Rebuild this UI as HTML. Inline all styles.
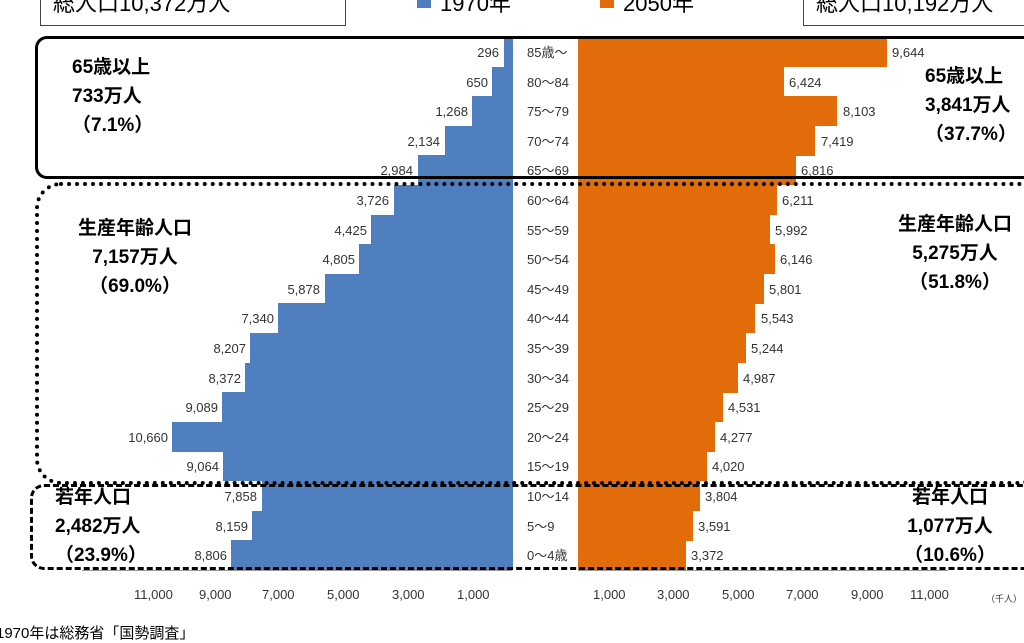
<!DOCTYPE html>
<html><head><meta charset="utf-8"><style>
body{margin:0;width:1024px;height:636px;overflow:hidden;background:#fff;position:relative;font-family:"Liberation Sans","Noto Sans CJK JP",sans-serif;}
.a{position:absolute;}
.r{position:absolute;left:0;width:1024px;height:30px;}
.b{position:absolute;right:511px;top:0;height:30px;background:#4f7fbf;}
.o{position:absolute;left:578px;top:0;height:30px;background:#e36c0a;}
.l{position:absolute;top:0;line-height:32px;font-size:13px;color:#333;white-space:nowrap;}
.g{position:absolute;left:527px;top:0;line-height:32px;font-size:13px;color:#333;white-space:nowrap;}
.t{position:absolute;font-weight:bold;font-size:19px;color:#000;white-space:nowrap;text-align:center;line-height:29px;}
.x{position:absolute;top:587px;font-size:13px;color:#333;}
</style></head><body>
<div class="a" style="left:40px;top:-12px;width:306px;height:38px;border:1px solid #444;font-size:22px;line-height:30px;padding-left:12px;box-sizing:border-box">総人口10,372万人</div>
<div class="a" style="left:803px;top:-12px;width:240px;height:38px;border:1px solid #444;font-size:22px;line-height:30px;padding-left:12px;box-sizing:border-box">総人口10,192万人</div>
<div class="a" style="left:417px;top:-6px;width:14px;height:14px;background:#4f7fbf"></div>
<div class="a" style="left:440px;top:-14px;font-size:22px">1970年</div>
<div class="a" style="left:600px;top:-6px;width:14px;height:14px;background:#e36c0a"></div>
<div class="a" style="left:623px;top:-14px;font-size:22px">2050年</div>

<div class="r" style="top:37px"><div class="b" style="width:9.5px"></div><div class="l" style="right:525px">296</div><div class="g">85歳～</div><div class="o" style="width:308.6px"></div><div class="l" style="left:892px">9,644</div></div>
<div class="r" style="top:66.6px"><div class="b" style="width:20.8px"></div><div class="l" style="right:536px">650</div><div class="g">80～84</div><div class="o" style="width:205.6px"></div><div class="l" style="left:789px">6,424</div></div>
<div class="r" style="top:96.2px"><div class="b" style="width:40.6px"></div><div class="l" style="right:556px">1,268</div><div class="g">75～79</div><div class="o" style="width:259.3px"></div><div class="l" style="left:843px">8,103</div></div>
<div class="r" style="top:125.8px"><div class="b" style="width:68.3px"></div><div class="l" style="right:584px">2,134</div><div class="g">70～74</div><div class="o" style="width:237.4px"></div><div class="l" style="left:821px">7,419</div></div>
<div class="r" style="top:155.4px"><div class="b" style="width:95.5px"></div><div class="l" style="right:611px">2,984</div><div class="g">65～69</div><div class="o" style="width:218.1px"></div><div class="l" style="left:801px">6,816</div></div>
<div class="r" style="top:185px"><div class="b" style="width:119.2px"></div><div class="l" style="right:635px">3,726</div><div class="g">60～64</div><div class="o" style="width:198.8px"></div><div class="l" style="left:782px">6,211</div></div>
<div class="r" style="top:214.6px"><div class="b" style="width:141.6px"></div><div class="l" style="right:657px">4,425</div><div class="g">55～59</div><div class="o" style="width:191.7px"></div><div class="l" style="left:775px">5,992</div></div>
<div class="r" style="top:244.2px"><div class="b" style="width:153.8px"></div><div class="l" style="right:669px">4,805</div><div class="g">50～54</div><div class="o" style="width:196.7px"></div><div class="l" style="left:780px">6,146</div></div>
<div class="r" style="top:273.8px"><div class="b" style="width:188.1px"></div><div class="l" style="right:704px">5,878</div><div class="g">45～49</div><div class="o" style="width:185.6px"></div><div class="l" style="left:769px">5,801</div></div>
<div class="r" style="top:303.4px"><div class="b" style="width:234.9px"></div><div class="l" style="right:750px">7,340</div><div class="g">40～44</div><div class="o" style="width:177.4px"></div><div class="l" style="left:761px">5,543</div></div>
<div class="r" style="top:333px"><div class="b" style="width:262.6px"></div><div class="l" style="right:778px">8,207</div><div class="g">35～39</div><div class="o" style="width:167.8px"></div><div class="l" style="left:751px">5,244</div></div>
<div class="r" style="top:362.6px"><div class="b" style="width:267.9px"></div><div class="l" style="right:783px">8,372</div><div class="g">30～34</div><div class="o" style="width:159.6px"></div><div class="l" style="left:743px">4,987</div></div>
<div class="r" style="top:392.2px"><div class="b" style="width:290.8px"></div><div class="l" style="right:806px">9,089</div><div class="g">25～29</div><div class="o" style="width:145px"></div><div class="l" style="left:728px">4,531</div></div>
<div class="r" style="top:421.8px"><div class="b" style="width:341.1px"></div><div class="l" style="right:856px">10,660</div><div class="g">20～24</div><div class="o" style="width:136.9px"></div><div class="l" style="left:720px">4,277</div></div>
<div class="r" style="top:451.4px"><div class="b" style="width:290px"></div><div class="l" style="right:805px">9,064</div><div class="g">15～19</div><div class="o" style="width:128.6px"></div><div class="l" style="left:712px">4,020</div></div>
<div class="r" style="top:481px"><div class="b" style="width:251.5px"></div><div class="l" style="right:767px">7,858</div><div class="g">10～14</div><div class="o" style="width:121.7px"></div><div class="l" style="left:705px">3,804</div></div>
<div class="r" style="top:510.6px"><div class="b" style="width:261.1px"></div><div class="l" style="right:776px">8,159</div><div class="g">5～9</div><div class="o" style="width:114.9px"></div><div class="l" style="left:698px">3,591</div></div>
<div class="r" style="top:540.2px"><div class="b" style="width:281.8px"></div><div class="l" style="right:797px">8,806</div><div class="g">0～4歳</div><div class="o" style="width:107.9px"></div><div class="l" style="left:691px">3,372</div></div>

<div class="a" style="left:82px;top:570px;width:430px;height:1px;background:#999"></div>
<div class="a" style="left:578px;top:570px;width:370px;height:1px;background:#999"></div>

<div class="a" style="left:35px;top:36px;width:1010px;height:143px;border:3px solid #000;border-radius:12px;box-sizing:border-box"></div>
<div class="a" style="left:35px;top:182px;width:1010px;height:303px;border:4px dotted #000;border-radius:26px;box-sizing:border-box"></div>
<div class="a" style="left:30px;top:484px;width:1015px;height:86px;border:3px dashed #000;border-radius:14px;box-sizing:border-box"></div>

<div class="t" style="left:72px;top:53px;text-align:left">65歳以上<br>733万人<br>（7.1%）</div>
<div class="t" style="left:925px;top:62px;text-align:left">65歳以上<br>3,841万人<br>（37.7%）</div>
<div class="t" style="left:55px;top:214px;width:160px">生産年齢人口<br>7,157万人<br>（69.0%）</div>
<div class="t" style="left:875px;top:210px;width:160px">生産年齢人口<br>5,275万人<br>（51.8%）</div>
<div class="t" style="left:55px;top:483px;text-align:left">若年人口<br>2,482万人<br>（23.9%）</div>
<div class="t" style="left:895px;top:483px;width:110px">若年人口<br>1,077万人<br>（10.6%）</div>

<div class="x" style="left:134px">11,000</div>
<div class="x" style="left:199px">9,000</div>
<div class="x" style="left:262px">7,000</div>
<div class="x" style="left:327px">5,000</div>
<div class="x" style="left:392px">3,000</div>
<div class="x" style="left:457px">1,000</div>
<div class="x" style="left:593px">1,000</div>
<div class="x" style="left:657px">3,000</div>
<div class="x" style="left:722px">5,000</div>
<div class="x" style="left:786px">7,000</div>
<div class="x" style="left:851px">9,000</div>
<div class="x" style="left:910px">11,000</div>
<div class="a" style="left:986px;top:592px;font-size:9px;color:#333">（千人）</div>
<div class="a" style="left:-4px;top:622px;font-size:15px;color:#000">1970年は総務省「国勢調査」</div>
</body></html>
